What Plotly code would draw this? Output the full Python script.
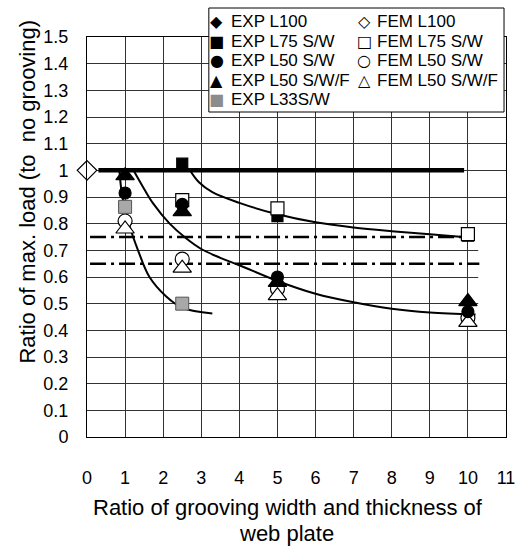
import plotly.graph_objects as go

# ---------------- data ----------------
exp_l100_x = [0]
exp_l100_y = [1.0]
fem_l100_x = [0]
fem_l100_y = [1.0]

exp_l75_x = [2.5, 5, 10]
exp_l75_y = [1.025, 0.828, 0.755]
fem_l75_x = [2.5, 5, 10]
fem_l75_y = [0.888, 0.857, 0.761]

exp_l50_x = [1, 2.5, 5, 10]
exp_l50_y = [0.915, 0.872, 0.60, 0.47]
fem_l50_x = [1, 2.5, 5, 10]
fem_l50_y = [0.81, 0.667, 0.555, 0.447]

exp_l50f_x = [1, 2.5, 5, 10]
exp_l50f_y = [0.98, 0.845, 0.58, 0.508]
fem_l50f_x = [1, 2.5, 5, 10]
fem_l50f_y = [0.78, 0.633, 0.53, 0.43]

exp_l33_x = [1, 2.5]
exp_l33_y = [0.863, 0.50]

# fitted trend curves
curve33_x = [0.85, 0.93, 1.12, 1.34, 1.64, 2.08, 2.51, 3.29]
curve33_y = [1.0, 0.90, 0.79, 0.70, 0.60, 0.527, 0.484, 0.463]
curve50_x = [1.22, 1.5, 1.74, 2.17, 2.6, 3.0, 3.5, 4.0, 5.0, 6.0, 7.0, 8.0, 9.0, 10.2]
curve50_y = [1.0, 0.93, 0.875, 0.80, 0.745, 0.705, 0.672, 0.644, 0.585, 0.537, 0.505, 0.481, 0.467, 0.459]
curve75_x = [2.68, 2.94, 3.29, 4.0, 5.0, 6.0, 7.0, 8.0, 9.0, 9.87]
curve75_y = [1.005, 0.955, 0.918, 0.878, 0.835, 0.805, 0.786, 0.772, 0.76, 0.75]

# reference lines
l100_line_x = [0.3, 9.9]
l100_line_y = [1.0, 1.0]
ref75_x = [0.08, 10.1]
ref75_y = [0.75, 0.75]
ref65_x = [0.08, 10.3]
ref65_y = [0.65, 0.65]

x_ticks = list(range(0, 12))
y_ticks = [i / 10 for i in range(0, 16)]
y_ticktext = ["0", "0.1", "0.2", "0.3", "0.4", "0.5", "0.6", "0.7", "0.8", "0.9",
              "1", "1.1", "1.2", "1.3", "1.4", "1.5"]

legend_left = ["◆|EXP L100", "■|EXP L75 S/W", "●|EXP L50 S/W", "▲|EXP L50 S/W/F", "■|EXP L33S/W"]
legend_right = ["◇|FEM L100", "□|FEM L75 S/W", "○|FEM L50 S/W", "△|FEM L50 S/W/F"]

# ---------------- figure ----------------
W, H = 527, 547
ML, MR, MT, MB = 87, 17, 37, 110
PW, PH = W - ML - MR, H - MT - MB

FONT = "Liberation Sans, Arial, sans-serif"

fig = go.Figure()

def line(x, y, width, dash=None, shape="linear"):
    fig.add_trace(go.Scatter(x=x, y=y, mode="lines", showlegend=False, hoverinfo="skip",
                             line=dict(color="black", width=width, dash=dash, shape=shape,
                                       smoothing=1.0)))

line(ref75_x, ref75_y, 2.5, dash="16px,5px,3px,5px")
line(ref65_x, ref65_y, 2.5, dash="16px,5px,3px,5px")
line(l100_line_x, l100_line_y, 4.5)
line(curve33_x, curve33_y, 2, shape="spline")
line(curve50_x, curve50_y, 2, shape="spline")
line(curve75_x, curve75_y, 2, shape="spline")

def pts(x, y, name, symbol, size, fill, lc="black", lw=1.2):
    fig.add_trace(go.Scatter(x=x, y=y, mode="markers", name=name, showlegend=False,
                             cliponaxis=False,
                             marker=dict(symbol=symbol, size=size, color=fill,
                                         line=dict(color=lc, width=lw))))

pts(exp_l100_x, exp_l100_y, "EXP L100", "diamond", 13, "black")
pts(fem_l100_x, fem_l100_y, "FEM L100", "diamond", 15, "white")
pts(exp_l75_x, exp_l75_y, "EXP L75 S/W", "square", 11, "black")
pts(fem_l75_x, fem_l75_y, "FEM L75 S/W", "square", 13, "white")
pts(fem_l50_x, fem_l50_y, "FEM L50 S/W", "circle", 14, "white")
pts(fem_l50f_x, fem_l50f_y, "FEM L50 S/W/F", "triangle-up", 16, "white")
pts(exp_l50_x, exp_l50_y, "EXP L50 S/W", "circle", 12, "black")
pts(exp_l50f_x, exp_l50f_y, "EXP L50 S/W/F", "triangle-up", 16, "black")
pts(exp_l33_x, exp_l33_y, "EXP L33S/W", "square", 13, "#a8a8a8", lc="#555555", lw=1)

# white patch in the grid (as in the source figure)
fig.add_shape(type="rect", xref="x", yref="y", x0=10.27, x1=11, y0=0.45, y1=0.73,
              fillcolor="white", line=dict(width=0), layer="between")

def px2x(px):
    return (px - ML) / PW

def py2y(py):
    return (H - MB - py) / PH

# legend box
fig.add_shape(type="rect", xref="paper", yref="paper",
              x0=px2x(210), x1=px2x(508), y0=py2y(112), y1=py2y(8),
              fillcolor="white", line=dict(color="black", width=1), layer="above")

def legend_col(items, sym_px, text_px):
    for i, item in enumerate(items):
        sym, txt = item.split("|")
        py = 21.7 + 19.5 * i
        color = "#8c8c8c" if "L33" in txt else "black"
        fig.add_annotation(xref="paper", yref="paper", x=px2x(sym_px), y=py2y(py),
                           text=f'<span style="color:{color}">{sym}</span>', showarrow=False,
                           xanchor="center", yanchor="middle",
                           font=dict(family="DejaVu Sans", size=16, color=color))
        fig.add_annotation(xref="paper", yref="paper", x=px2x(text_px), y=py2y(py),
                           text=txt, showarrow=False, xanchor="left", yanchor="middle",
                           font=dict(family=FONT, size=17, color="black"))

legend_col(legend_left, 218, 230)
legend_col(legend_right, 367, 378)

# axis titles
fig.add_annotation(xref="paper", yref="paper", x=px2x(27), y=py2y(192),
                   text="Ratio of max. load (to\u00a0 no grooving)", showarrow=False,
                   textangle=-90, xanchor="center", yanchor="middle",
                   font=dict(family=FONT, size=22, color="black"))
fig.add_annotation(xref="paper", yref="paper", x=px2x(290), y=py2y(507),
                   text="Ratio of grooving width and thickness of", showarrow=False,
                   xanchor="center", yanchor="middle",
                   font=dict(family=FONT, size=22, color="black"))
fig.add_annotation(xref="paper", yref="paper", x=px2x(288), y=py2y(533),
                   text="web plate", showarrow=False,
                   xanchor="center", yanchor="middle",
                   font=dict(family=FONT, size=22, color="black"))

fig.update_xaxes(range=[0, 11], tickvals=x_ticks, ticktext=[str(v) for v in x_ticks],
                 showgrid=True, gridcolor="#333333", gridwidth=1,
                 showline=True, linecolor="black", linewidth=1, mirror=True,
                 zeroline=False, ticks="", ticklabelstandoff=24,
                 tickfont=dict(family=FONT, size=18, color="black"))
fig.update_yaxes(range=[0, 1.5], tickvals=y_ticks, ticktext=y_ticktext,
                 showgrid=True, gridcolor="#333333", gridwidth=1,
                 showline=True, linecolor="black", linewidth=1, mirror=True,
                 zeroline=False, ticks="", ticklabelstandoff=14,
                 tickfont=dict(family=FONT, size=18, color="black"))

fig.update_layout(width=W, height=H, margin=dict(l=ML, r=MR, t=MT, b=MB),
                  plot_bgcolor="white", paper_bgcolor="white", showlegend=False)

fig.write_html("out.html")
